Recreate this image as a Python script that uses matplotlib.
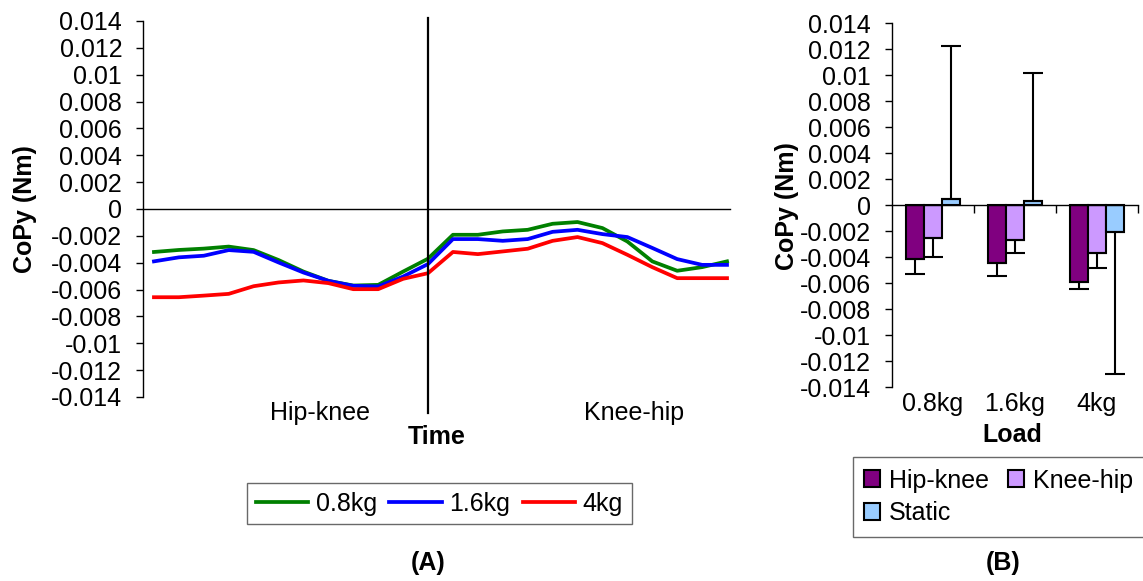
import numpy as np
import matplotlib.pyplot as plt
from matplotlib.ticker import FuncFormatter, MultipleLocator

plt.rcParams['font.family'] = ['Liberation Sans', 'DejaVu Sans']

# (A) CoPy over normalised time, 24 samples, split at sample 11
loads = ['0.8kg', '1.6kg', '4kg']
copy_08 = [-3.2, -3.05, -2.95, -2.8, -3.06, -3.8, -4.66, -5.35, -5.7, -5.65, -4.66, -3.7,
           -1.92, -1.92, -1.67, -1.55, -1.1, -0.97, -1.42, -2.42, -3.9, -4.6, -4.33, -3.9]
copy_16 = [-3.9, -3.6, -3.48, -3.06, -3.19, -3.98, -4.73, -5.35, -5.72, -5.77, -5.03, -4.1,
           -2.24, -2.24, -2.37, -2.24, -1.7, -1.55, -1.87, -2.09, -2.9, -3.73, -4.16, -4.16]
copy_4 = [-6.57, -6.57, -6.45, -6.32, -5.75, -5.47, -5.32, -5.52, -5.97, -5.97, -5.2, -4.78,
          -3.2, -3.36, -3.16, -2.96, -2.37, -2.09, -2.54, -3.41, -4.33, -5.15, -5.15, -5.15]
split_index = 11
phases = ['Hip-knee', 'Knee-hip']

# (B) mean CoPy per load and movement, with one-sided error bars
movements = ['Hip-knee', 'Knee-hip', 'Static']
bar_means = {
    'Hip-knee': [-4.1, -4.43, -5.89],
    'Knee-hip': [-2.48, -2.64, -3.66],
    'Static': [0.49, 0.34, -2.05],
}
bar_errs = {
    'Hip-knee': [1.18, 0.98, 0.54],
    'Knee-hip': [1.49, 1.02, 1.15],
    'Static': [11.74, 9.84, 10.9],
}

line_colors = ['#008000', '#0000FF', '#FF0000']
bar_colors = ['#800080', '#CC99FF', '#99CCFF']
FS = 18

W, H = 1143, 581
fig = plt.figure(figsize=(W / 100, H / 100), dpi=100)

def px_axes(x0, y0, x1, y1):
    return fig.add_axes([x0 / W, 1 - y1 / H, (x1 - x0) / W, (y1 - y0) / H])

fmt = FuncFormatter(lambda v, p: '%g' % round(v, 4))

def style_y(ax):
    ax.set_ylim(-0.014, 0.014)
    ax.yaxis.set_major_locator(MultipleLocator(0.002))
    ax.yaxis.set_major_formatter(fmt)
    ax.tick_params(axis='y', direction='out', length=5, width=1, pad=10, labelsize=FS)
    ax.spines['top'].set_visible(False)
    ax.spines['right'].set_visible(False)
    ax.spines['bottom'].set_position(('data', 0))
    for s in ('left', 'bottom'):
        ax.spines[s].set_linewidth(1)

# ---- panel A
axA = px_axes(143, 21, 730, 397)
t = np.arange(len(copy_08))
for vals, lab, c in zip([copy_08, copy_16, copy_4], loads, line_colors):
    axA.plot(t, np.array(vals) / 1000, color=c, lw=2.7, label=lab)
axA.set_xlim(-0.44, 23.12)
style_y(axA)
axA.set_xticks([])
axA.axvline(split_index, ymin=-0.042, ymax=1.008, color='black', lw=1.6, clip_on=False)
xtr = axA.get_xaxis_transform()
axA.text(6.66, -0.042, phases[0], transform=xtr, ha='center', va='center', fontsize=FS)
axA.text(19.27, -0.042, phases[1], transform=xtr, ha='center', va='center', fontsize=FS)
axA.text(0.5, -0.106, 'Time', transform=axA.transAxes, ha='center', va='center',
         fontsize=FS, fontweight='bold')
fig.text(0.0219, 0.6403, 'CoPy (Nm)', rotation=90, ha='center', va='center',
         fontsize=FS, fontweight='bold')
legA = fig.legend(*axA.get_legend_handles_labels(), loc='center', bbox_to_anchor=(0.3845, 0.133),
                  ncol=3, fontsize=FS, frameon=True, fancybox=False, edgecolor='#444444',
                  handlelength=2.1, handletextpad=0.3, columnspacing=0.5, borderpad=0.35)
legA.get_frame().set_linewidth(1)

# ---- panel B
axB = px_axes(891.7, 23.3, 1138, 387.3)
x = np.arange(len(loads))
bw = 0.22
for k, (m, c) in enumerate(zip(movements, bar_colors)):
    means = np.array(bar_means[m]) / 1000
    errs = np.array(bar_errs[m]) / 1000
    pos = x + (k - 1) * bw
    axB.bar(pos, means, bw, color=c, edgecolor='black', lw=1.5, label=m, zorder=2)
    lower = np.where(means < 0, errs, 0)
    upper = np.where(means >= 0, errs, 0)
    axB.errorbar(pos, means, yerr=[lower, upper], fmt='none', ecolor='black',
                 elinewidth=1.5, capsize=7, capthick=1.5, zorder=3)
axB.set_xlim(-0.5, 2.5)
style_y(axB)
axB.set_xticks(x[:-1] + 0.5)
axB.set_xticks([2.5], minor=True)
axB.tick_params(axis='x', which='both', direction='out', length=6, width=1, labelbottom=False)
for i, lab in enumerate(loads):
    axB.text(i, -0.01525, lab, ha='center', va='center', fontsize=FS, clip_on=False)
axB.text(0.49, -0.131, 'Load', transform=axB.transAxes, ha='center', va='center',
         fontsize=FS, fontweight='bold')
fig.text(0.6886, 0.646, 'CoPy (Nm)', rotation=90, ha='center', va='center',
         fontsize=FS, fontweight='bold')
# legend is filled column by column, so reorder to read Hip-knee, Knee-hip / Static
hB, lB = axB.get_legend_handles_labels()
order = [0, 2, 1]
legB = fig.legend([hB[i] for i in order], [lB[i] for i in order], loc='center',
                  bbox_to_anchor=(0.8736, 0.1446),
                  ncol=2, fontsize=FS, frameon=True, fancybox=False, edgecolor='#444444',
                  handlelength=0.65, handleheight=0.65, handletextpad=0.35, columnspacing=0.75,
                  borderpad=0.45, labelspacing=0.35)
legB.get_frame().set_linewidth(1)

fig.text(0.3745, 0.031, '(A)', ha='center', va='center', fontsize=FS, fontweight='bold')
fig.text(0.8775, 0.031, '(B)', ha='center', va='center', fontsize=FS, fontweight='bold')

fig.savefig('out.png', dpi=100)
